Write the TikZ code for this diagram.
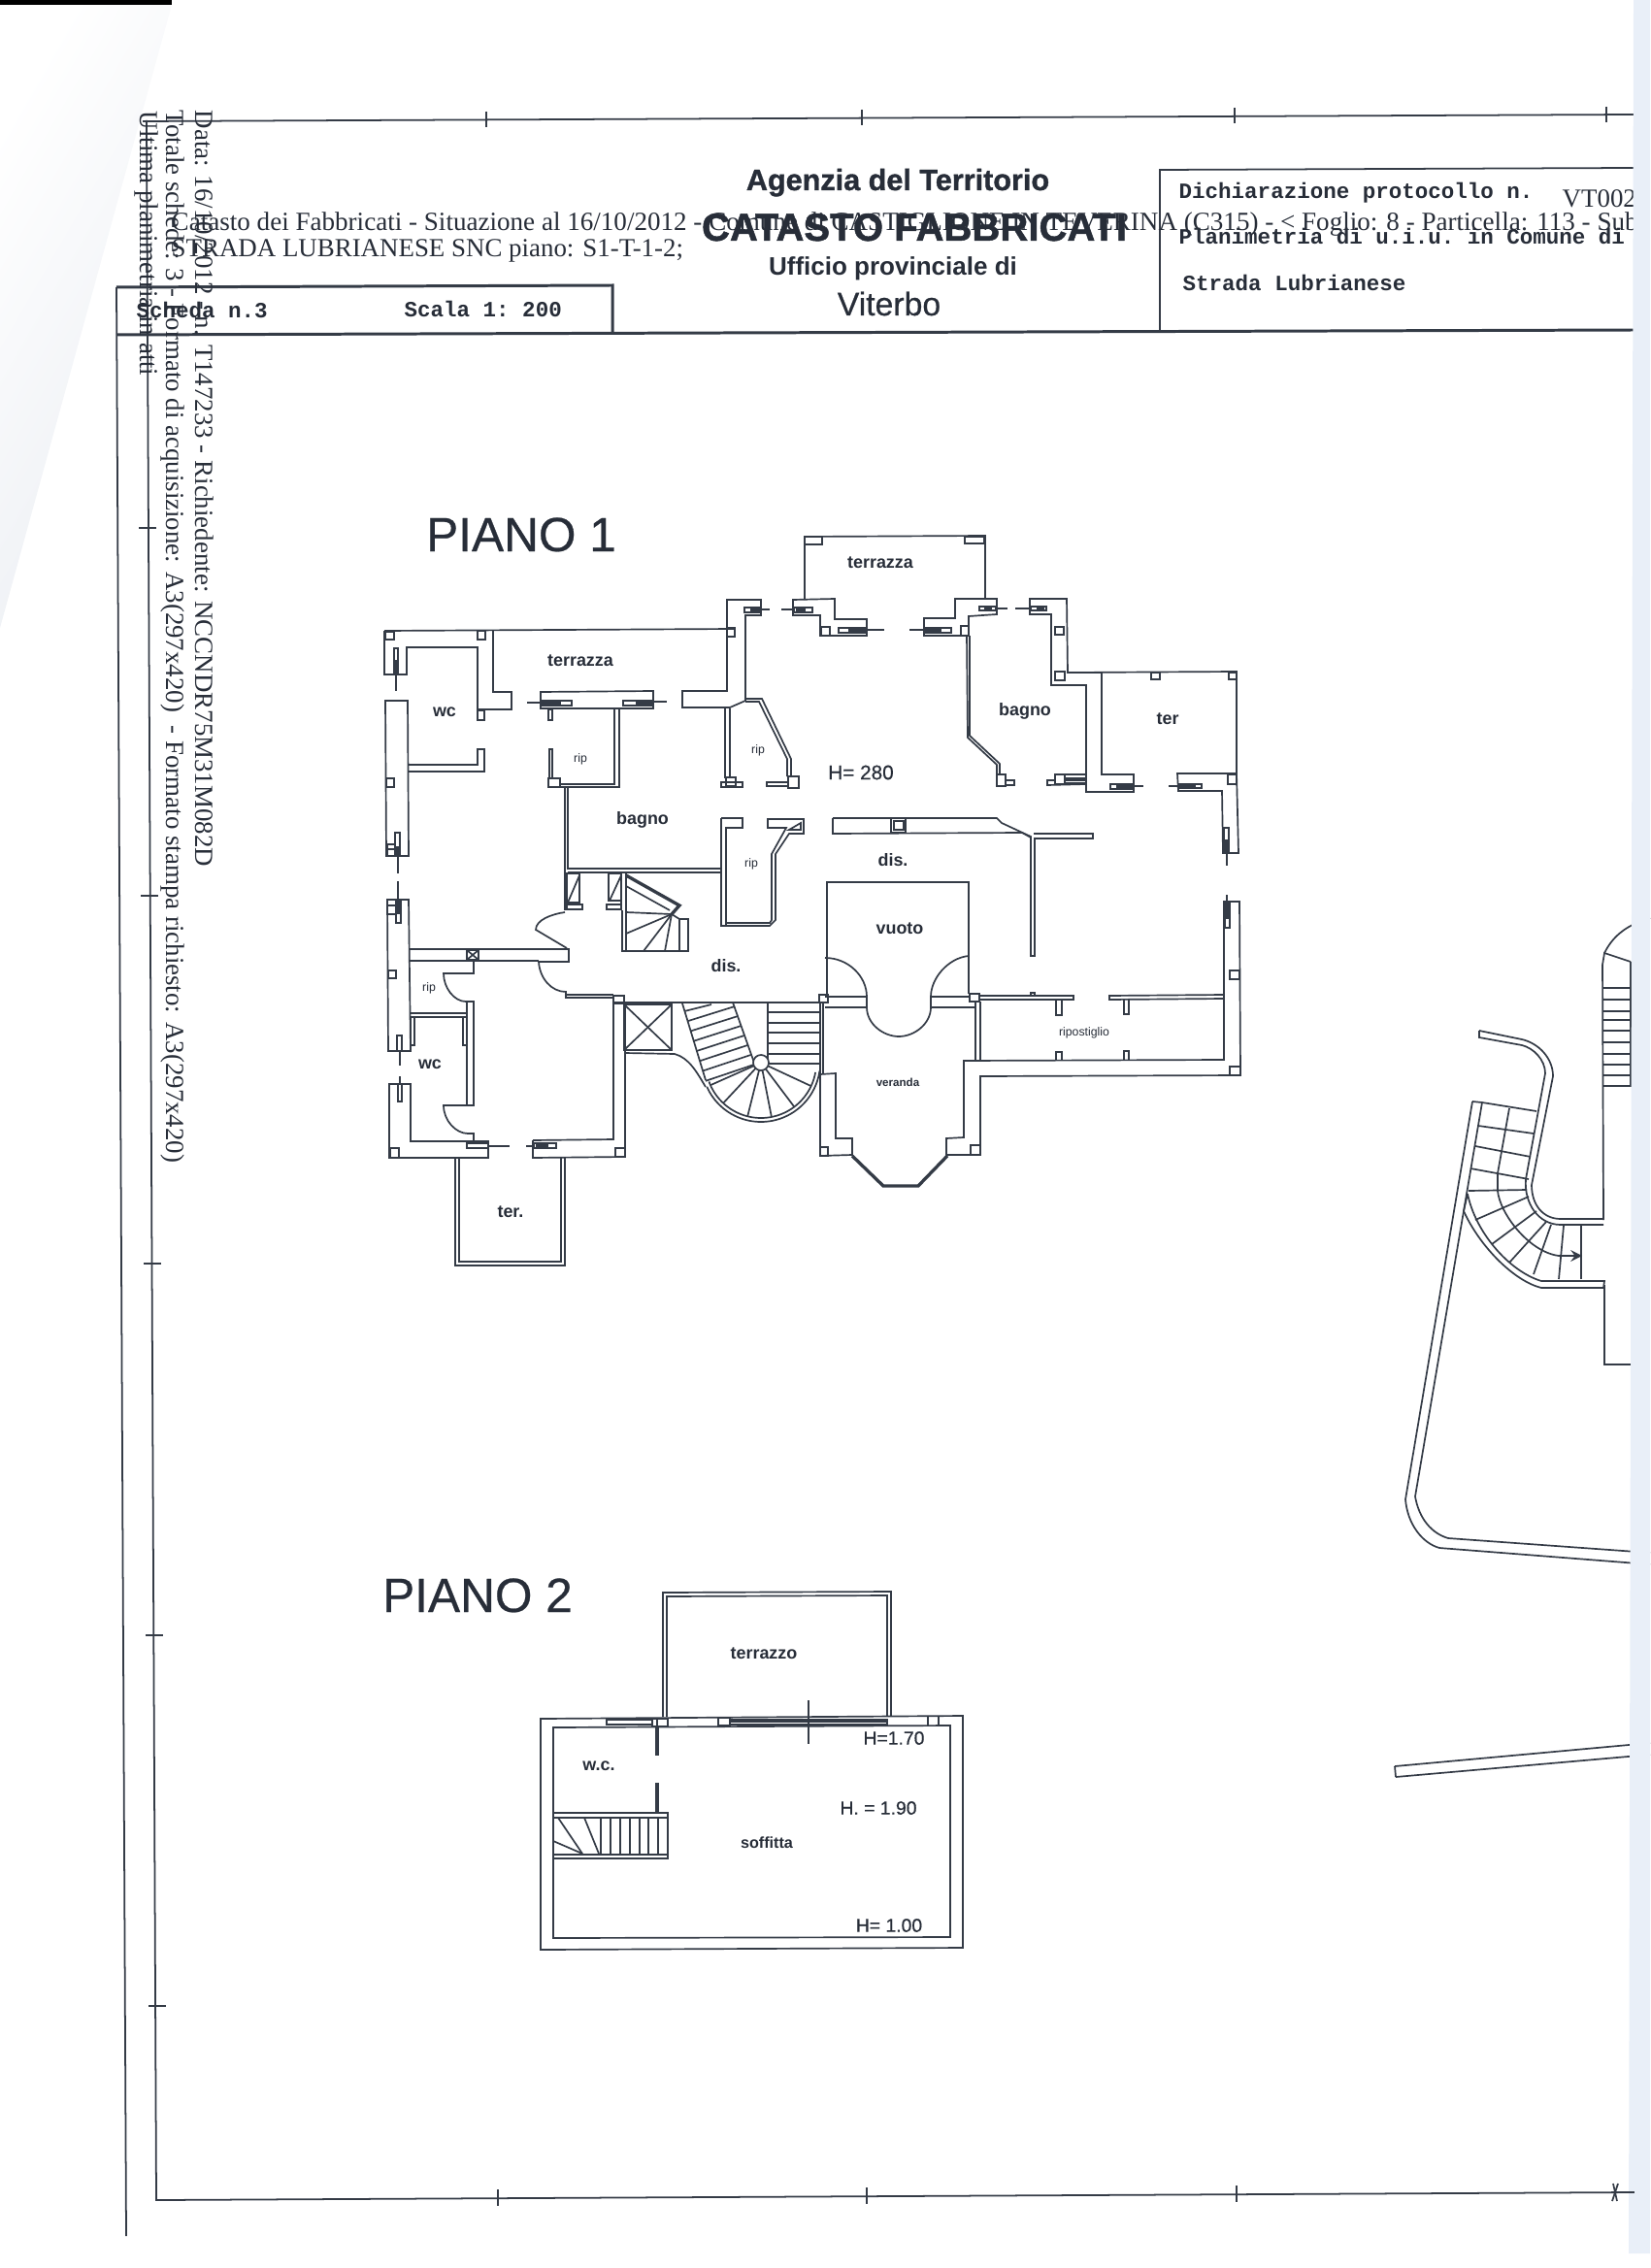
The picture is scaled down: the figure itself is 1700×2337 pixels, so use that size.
\documentclass[tikz,border=0pt]{standalone}
\usepackage{fontspec}
\setmainfont{Liberation Serif}
\setsansfont{Liberation Sans}
\setmonofont{Liberation Mono}
\newfontfamily\semisans[FakeBold=0.5]{Liberation Sans}
\newfontfamily\heavysans[FakeBold=1.2]{Liberation Sans Bold}
\definecolor{inkline}{HTML}{343B46}
\definecolor{inktext}{HTML}{272D38}
\definecolor{foldtint}{HTML}{EBEEF3}
\definecolor{edgetint}{HTML}{E9EFF8}
\begin{document}
\begin{tikzpicture}[x=0.01cm,y=-0.01cm,>=stealth,
    wall/.style={line width=0.48pt,color=inkline},
    heavywall/.style={line width=0.95pt,color=inkline},
    frameline/.style={line width=0.5pt,color=inkline},
    headline/.style={line width=0.85pt,color=inkline},
    printline/.style={font=\rmfamily\fontsize{7.65}{9}\selectfont,text=inktext,inner sep=0pt},
    monoline/.style={font=\ttfamily\bfseries\fontsize{6.4}{8}\selectfont,text=inktext,inner sep=0pt},
    roomlabel/.style={font=\sffamily\bfseries\fontsize{5.1}{6}\selectfont,text=inktext,inner sep=0pt},
    smalllabel/.style={font=\sffamily\fontsize{3.5}{4}\selectfont,text=inktext,inner sep=0pt},
    heightlabel/.style={font=\semisans\fontsize{5.5}{6}\selectfont,text=inktext,inner sep=0pt},
    floortitle/.style={font=\semisans\fontsize{14.1}{16}\selectfont,text=inktext,inner sep=0pt},
    officetitle/.style={font=\sffamily\bfseries,text=inktext,inner sep=0pt}]
    \useasboundingbox (0,0) rectangle (1700,2337);
    \shade [left color=white,right color=foldtint,shading angle=60] (0,5) -- (177,5) -- (0,647) -- cycle;
    \fill [black] (0,0) rectangle (177,5);
    \coordinate (TL) at (147,125);
    \coordinate (TR) at (1683,118);
    \coordinate (BL) at (161,2267);
    \coordinate (BR) at (1684,2259);
    \coordinate (HL) at (120,345);
    \coordinate (HR) at (1683,340);
    \draw [frameline] (TL) -- (TR);
    \draw [frameline] (151,124) -- (BL) -- (BR);
    \draw [frameline] (120,296) -- (130,2304);
    \draw [headline] (HL) -- (HR);
    \draw [headline] (120,296) -- (631,294) -- (631,345);
    \draw [frameline] (1195,340) -- (1195,175) -- (1683,173);
    \foreach \tx/\ty in {501/123,888/121,1272/119,1655/118}
        \draw [wall] (\tx,\ty-8) -- (\tx,\ty+8);
    \foreach \tx/\ty in {513/2265,893/2263,1274/2261}
        \draw [wall] (\tx,\ty-9) -- (\tx,\ty+8);
    \foreach \tx/\ty in {152/544,154/923,157/1302,159/1685,162/2067}
        \draw [wall] (\tx-9,\ty) -- (\tx+9,\ty);
    \node [printline,anchor=base west,rotate=-90] (dataline) at (201,113) {Data: 16/10/2012 - n. T147233 - Richiedente: NCCNDR75M31M082D};
    \node [printline,anchor=base west,rotate=-90] (totaleline) at (171,113) {Totale schede: 3 - Formato di acquisizione: A3(297x420) \ - Formato stampa richiesto: A3(297x420)};
    \node [printline,anchor=base west,rotate=-90] (ultimaline) at (144,114) {Ultima planimetria in atti};
    \node [printline,anchor=base west,font=\rmfamily\fontsize{7.7}{9}\selectfont] (catastoline) at (176,238) {Catasto dei Fabbricati - Situazione al 16/10/2012 - Comune di CASTIGLIONE IN TEVERINA (C315) - < Foglio: 8 - Particella: 113 - Sub};
    \node [printline,anchor=base west] (stradaline) at (176,265) {STRADA LUBRIANESE SNC piano: S1-T-1-2;};
    \node [printline,anchor=base west] (protocollo) at (1609,214) {VT002};
    \node [monoline,anchor=base west] (schedaline) at (140,328) {Scheda n.3};
    \node [monoline,anchor=base west] (scalaline) at (416,327) {Scala 1: 200};
    \node [monoline,anchor=base west] (dichiaraline) at (1214,205) {Dichiarazione protocollo n.};
    \node [monoline,anchor=base west] (planimetrialine) at (1214,252) {Planimetria di u.i.u. in Comune di};
    \node [monoline,anchor=base west] (stradaname) at (1218,300) {Strada Lubrianese};
    \node [officetitle,anchor=base,font=\heavysans\fontsize{8.7}{10}\selectfont] (agenzia) at (925,196) {Agenzia del Territorio};
    \node [officetitle,anchor=base,font=\heavysans\fontsize{11.4}{13}\selectfont] (catastotitle) at (942,248) {CATASTO FABBRICATI};
    \node [officetitle,anchor=base,font=\sffamily\bfseries\fontsize{7.4}{9}\selectfont] (ufficio) at (920,284) {Ufficio provinciale di};
    \node [officetitle,anchor=base,font=\semisans\fontsize{9.6}{11}\selectfont] (viterbo) at (916,325) {Viterbo};
    \node [floortitle,anchor=base] (pianoone) at (537,568) {PIANO 1};
    \node [floortitle,anchor=base] (pianotwo) at (492,1661) {PIANO 2};
    \foreach \xa/\ya/\xb/\yb in {397/651/406/659,492/650/500/659,749/647/757/656,398/802/406/811,399/933/408/942,400/1000/408/1008,402/1183/411/1193,634/1183/644/1192,632/1026/643/1034,846/646/855/655,990/645/998/655,1087/646/1096/654,1087/692/1097/701,1186/693/1195/700,1266/693/1274/700,1265/798/1274/808,1267/1000/1277/1009,1267/1099/1278/1108,1000/1180/1010/1190,845/1182/853/1191,999/1024/1009/1032,844/1025/853/1033,829/553/847/561,994/553/1014/560,1027/798/1036/810,1087/798/1097/808,565/802/577/811,748/801/758/810,812/800/823/812,492/732/499/742,399/870/407/875,399/875/407/882}
        \draw [wall] (\xa,\ya) rectangle (\xb,\yb);
    \foreach \xa/\ya/\xb/\yb in {406/668/410/695,407/858/412/882,408/928/413/951,409/1067/414/1083,410/1117/414/1135,481/1178/503/1183,550/1178/573/1183,557/722/589/727,642/722/673/727,767/626/783/631,818/626/837/631,864/647/893/652,952/647/980/652,1009/625/1026/629,1062/625/1078/629,1144/808/1168/813,1214/808/1238/812,1261/853/1266/879,1262/929/1267/956,1097/798/1119/807}
        \draw [wall] (\xa,\ya) rectangle (\xb,\yb);
    \foreach \xa/\ya/\xb/\yb in {407/680/409/695,408/872/411/882,409/928/412/942,557/723/578/726,655/723/673/726,552/1179/565/1182,874/648/893/651,952/648/970/651,1014/626/1022/628,1150/809/1168/812,1214/809/1232/812,1262/865/1265/879,1263/929/1266/947,1097/801/1119/805,1068/626/1076/628,773/627/783/630,820/627/830/630}
        \fill [inkline] (\xa,\ya) rectangle (\xb,\yb);
    \foreach \xa/\ya/\xb/\yb in {408/695/408/712,410/882/410/900,410/908/410/928,412/1083/412/1098,412/1109/412/1117,503/1181/525/1181,542/1181/550/1181,543/724/557/724,673/723/687/723,783/628/793/628,805/628/818/628,893/649/911/649,937/649/952/649,1026/627/1038/627,1046/627/1061/627,1168/810/1178/810,1204/810/1214/810,1264/879/1264/892,1264/922/1264/929}
        \draw [wall] (\xa,\ya) -- (\xb,\yb);
    \draw [wall] (396,650) -- (757,648);
    \draw [wall] (396,650) -- (396,695) -- (419,695) -- (419,667) -- (492,667) -- (492,731) -- (527,731) -- (527,713) -- (508,713) -- (508,649);
    \draw [wall] (397,722) -- (420,722) -- (421,882) -- (398,882) -- cycle;
    \draw [wall] (420,788) -- (492,788) -- (492,772) -- (499,772) -- (499,795) -- (420,795);
    \draw [wall] (399,927) -- (421,927) -- (423,1083) -- (400,1083) -- cycle;
    \draw [wall] (401,1117) -- (423,1117) -- (423,1176) -- (503,1176) -- (503,1193) -- (401,1193) -- cycle;
    \draw [wall] (549,1175) -- (632,1174) -- (632,1034);
    \draw [wall] (549,1175) -- (549,1193) -- (644,1192) -- (644,1035);
    \draw [wall] (469,1193) -- (469,1304) -- (582,1304) -- (582,1193);
    \draw [wall] (473,1193) -- (473,1300) -- (578,1300) -- (578,1193);
    \draw [wall] (422,978) -- (586,978) -- (586,991) -- (555,991);
    \draw [wall] (422,990) -- (555,990);
    \draw [wall] (481,979) rectangle (493,989);
    \draw [wall] (481,979) -- (493,989);
    \draw [wall] (493,979) -- (481,989);
    \draw [wall] (480,990) -- (488,990) -- (488,1003) -- (457,1003) .. controls (457,1018) and (468,1032) .. (480,1032) -- (488,1032) -- (488,1139) -- (457,1139) .. controls (457,1155) and (470,1168) .. (482,1168) -- (488,1168) -- (488,1176);
    \draw [wall] (481,1032) -- (481,1139);
    \draw [wall] (423,1044) -- (481,1044);
    \draw [wall] (423,1048) -- (481,1048);
    \draw [wall] (423,1048) -- (423,1077) -- (427,1077) -- (427,1048);
    \draw [wall] (477,1048) -- (477,1077) -- (481,1077);
    \draw [wall] (582,940) .. controls (568,942) and (552,948) .. (552,958) -- (584,977);
    \draw [wall] (555,991) .. controls (556,1008) and (568,1022) .. (583,1022) -- (583,1028) -- (632,1028);
    \draw [wall] (583,1025) -- (632,1025);
    \draw [wall] (582,811) -- (582,938);
    \draw [wall] (585,811) -- (585,895) -- (743,895);
    \draw [wall] (585,899) -- (743,899);
    \draw [wall] (743,843) -- (765,843) -- (765,853) -- (748,853) -- (748,954);
    \draw [wall] (743,843) -- (743,954) -- (793,954) -- (799,948) -- (799,880) -- (813,859) -- (828,859) -- (828,844) -- (791,844) -- (791,853) -- (810,853) -- (795,880) -- (795,948) -- (793,951) -- (748,951);
    \draw [wall] (813,855) -- (825,848) -- (825,855) -- cycle;
    \draw [wall] (557,713) -- (673,712) -- (673,730) -- (557,730) -- cycle;
    \draw [wall] (565,731) rectangle (569,742);
    \draw [wall] (633,731) -- (633,808) -- (577,808);
    \draw [wall] (638,731) -- (638,811) -- (577,811);
    \draw [wall] (566,772) rectangle (569,802);
    \draw [wall] (703,712) -- (749,712) -- (749,618) -- (784,618) -- (784,634) -- (768,634) -- (768,722) -- (752,729) -- (703,729) -- cycle;
    \draw [wall] (817,618) -- (860,617) -- (860,638) -- (893,638) -- (893,655) -- (845,655) -- (845,634) -- (817,634) -- cycle;
    \draw [wall] (829,618) -- (829,553) -- (1015,552) -- (1015,617);
    \draw [wall] (952,637) -- (984,637) -- (984,617) -- (1027,617) -- (1027,633) -- (998,635) -- (998,655) -- (952,655) -- cycle;
    \draw [wall] (1061,617) -- (1099,617) -- (1100,693) -- (1135,693) -- (1135,798) -- (1168,798) -- (1168,816) -- (1119,816) -- (1119,706) -- (1083,706) -- (1083,633) -- (1061,633) -- cycle;
    \draw [wall] (1100,693) -- (1274,692) -- (1274,797);
    \draw [wall] (1213,797) -- (1274,797) -- (1276,879) -- (1260,879) -- (1259,815) -- (1214,815) -- cycle;
    \draw [wall] (1261,929) -- (1277,929) -- (1278,1108) -- (1010,1109) -- (1010,1190) -- (975,1190) -- (975,1173) -- (993,1172) -- (993,1093) -- (1261,1092) -- cycle;
    \draw [heavywall] (878,1191) -- (910,1222) -- (946,1222) -- (976,1191);
    \draw [wall] (845,1107) -- (861,1106) -- (861,1173) -- (878,1173) -- (878,1190) -- (845,1191) -- cycle;
    \draw [wall] (852,1026) -- (852,909) -- (998,909) -- (998,1024);
    \draw [wall] (850,1027) -- (893,1027) -- (893,1038) -- (850,1038);
    \draw [wall] (1000,1027) -- (959,1027) -- (959,1038) -- (1005,1038);
    \draw [wall] (850,987) .. controls (874,987) and (893,1006) .. (893,1027);
    \draw [wall] (998,985) .. controls (977,987) and (959,1008) .. (959,1027);
    \draw [wall] (893,1038) .. controls (893,1055) and (910,1068) .. (926,1068) .. controls (942,1068) and (959,1055) .. (959,1038);
    \draw [wall] (1005,1032) -- (1005,1092);
    \draw [wall] (1010,1032) -- (1010,1092);
    \draw [wall] (1009,1026) -- (1106,1026) -- (1106,1030) -- (1009,1030);
    \draw [wall] (1261,1025) -- (1143,1026) -- (1143,1030) -- (1261,1029);
    \draw [wall] (1062,1026) -- (1062,1023) -- (1066,1023) -- (1066,1026);
    \draw [wall] (1088,1030) -- (1088,1046) -- (1094,1046) -- (1094,1030);
    \draw [wall] (1158,1030) -- (1158,1045) -- (1163,1045) -- (1163,1030);
    \draw [wall] (1088,1092) -- (1088,1084) -- (1094,1084) -- (1094,1092);
    \draw [wall] (1158,1092) -- (1158,1083) -- (1163,1083) -- (1163,1092);
    \draw [wall] (858,843) -- (1027,843) -- (1032,848) -- (1062,862) -- (1062,985) -- (1066,985) -- (1066,864) -- (1126,864) -- (1126,859) -- (1065,859);
    \draw [wall] (858,843) -- (858,859) -- (1053,858) -- (1062,863);
    \draw [wall] (918,843) rectangle (933,858);
    \draw [wall] (921,846) rectangle (931,855);
    \draw [wall] (996,655) -- (997,760) -- (1027,788) -- (1027,798);
    \draw [wall] (999,655) -- (999,758) -- (1030,787) -- (1030,798);
    \draw [wall] (1036,804) rectangle (1045,809);
    \draw [wall] (1087,804) -- (1079,804) -- (1079,809) -- (1119,808);
    \draw [wall] (747,730) -- (747,802);
    \draw [wall] (752,730) -- (752,802);
    \draw [wall] (743,806) rectangle (765,811);
    \draw [wall] (768,720) -- (785,720) -- (815,782) -- (815,800);
    \draw [wall] (768,723) -- (782,723) -- (811,782) -- (811,800);
    \draw [wall] (790,806) rectangle (812,810);
    \draw [wall] (584,900) rectangle (597,930);
    \draw [wall] (597,902) -- (585,930);
    \draw [wall] (627,900) rectangle (640,928);
    \draw [wall] (640,902) -- (628,928);
    \draw [wall] (584,932) rectangle (600,937);
    \draw [wall] (625,932) rectangle (640,937);
    \draw [wall] (640,899) -- (640,938);
    \draw [wall] (641,938) -- (641,980) -- (709,980) -- (709,947) -- (700,947) -- (700,980);
    \draw [wall] (645,899) -- (645,980);
    \draw [heavywall] (645,902) -- (700,933) -- (692,942);
    \draw [wall] (645,913) -- (690,938);
    \foreach \tx/\ty in {645/940,645/962,663/980,685/980}
        \draw [wall] (692,942) -- (\tx,\ty);
    \draw [wall] (692,942) -- (700,947);
    \draw [wall] (632,1033) -- (845,1033);
    \draw [wall] (643,1035) rectangle (692,1082);
    \draw [wall] (643,1035) -- (692,1082);
    \draw [wall] (692,1035) -- (643,1082);
    \draw [wall] (644,1085) -- (695,1086) .. controls (710,1090) and (718,1105) .. (727,1120);
    \draw [wall] (703,1034) -- (727,1113);
    \draw [wall] (755,1033) -- (777,1095);
    \draw [wall] (705,1042) -- (733,1035);
    \foreach \i in {1,...,7}
        \draw [wall] (709+3*\i-3,1052+10.3*\i-10.3) -- (757+3.3*\i-3.3,1037+10*\i-10);
    \draw [wall] (791,1033) -- (791,1095);
    \foreach \ty in {1043,1054,1064,1075,1086,1096}
        \draw [wall] (791,\ty) -- (844,\ty);
    \draw [wall] (845,1033) -- (845,1107);
    \draw [wall] (848,1033) -- (848,1107);
    \draw [wall] plot [domain=8:156,samples=50] ({784+61*cos(\x)},{1095+61*sin(\x)});
    \draw [wall] plot [domain=10:160,samples=50] ({784+57*cos(\x)},{1095+57*sin(\x)});
    \foreach \ang in {25,53,79,104,133,156}
        \draw [wall] ({784+8*cos(\ang)},{1095+8*sin(\ang)}) -- ({784+57*cos(\ang)},{1095+57*sin(\ang)});
    \draw [wall,fill=white] (784,1095) circle (8);
    \draw [wall] (557,1771) -- (992,1768) -- (992,2007) -- (557,2009) -- cycle;
    \draw [wall] (570,1780) -- (979,1778) -- (979,1996) -- (570,1997) -- cycle;
    \draw [wall] (683,1769) -- (683,1641) -- (918,1640) -- (918,1768);
    \draw [wall] (687,1769) -- (687,1645) -- (914,1644) -- (914,1768);
    \draw [wall] (625,1772) rectangle (672,1777);
    \draw [wall] (672,1771) rectangle (677,1779);
    \draw [wall] (677,1771) rectangle (688,1779);
    \draw [wall] (740,1770) rectangle (752,1778);
    \draw [wall] (752,1772) rectangle (914,1777);
    \draw [wall] (752,1774) -- (914,1774);
    \draw [wall] (956,1769) -- (956,1778);
    \draw [wall] (967,1769) -- (967,1778);
    \draw [wall] (833,1752) -- (833,1797);
    \draw [wall] (676,1780) rectangle (678,1808);
    \draw [wall] (676,1838) rectangle (678,1868);
    \draw [wall] (570,1868) -- (688,1868) -- (688,1915) -- (570,1915);
    \draw [wall] (570,1873) -- (688,1873);
    \draw [wall] (570,1911) -- (688,1911);
    \foreach \tx in {619,629,639,649,659,668,678}
        \draw [wall] (\tx,1873) -- (\tx,1911);
    \draw [wall] (575,1873) -- (600,1910);
    \draw [wall] (602,1873) -- (617,1910);
    \draw [wall] (570,1897) -- (600,1910);
    \draw [wall] (1653,982) .. controls (1660,968) and (1672,954) .. (1700,946);
    \draw [wall] (1651,994) -- (1653,982) -- (1680,991);
    \draw [wall] (1651,994) -- (1652,1257);
    \draw [wall] (1680,991) -- (1680,1119);
    \foreach \ty in {1018,1030,1042,1051,1062,1074,1086,1097,1108,1119}
        \draw [wall] (1651,\ty) -- (1700,\ty);
    \draw [wall] (1653,1324) -- (1653,1406) -- (1700,1406);
    \draw [wall] (1524,1062) -- (1568,1071) .. controls (1585,1075) and (1600,1090) .. (1600,1109) -- (1578,1221) .. controls (1578,1242) and (1590,1256) .. (1608,1256) -- (1652,1256);
    \draw [wall] (1524,1062) -- (1524,1069) -- (1568,1077) .. controls (1580,1080) and (1592,1092) .. (1592,1106) -- (1572,1215) .. controls (1570,1240) and (1585,1262) .. (1608,1262) -- (1652,1262);
    \draw [wall] (1517,1135) -- (1448,1545) .. controls (1450,1570) and (1465,1590) .. (1483,1595) -- (1700,1612);
    \draw [wall] (1527,1136) -- (1458,1542) .. controls (1462,1565) and (1475,1580) .. (1492,1585) -- (1700,1600);
    \draw [wall] (1517,1135) -- (1527,1136) -- (1583,1145);
    \foreach \xa/\ya/\xb/\yb in {1523/1160/1580/1168,1520/1181/1577/1192,1515/1204/1575/1215,1513/1227/1573/1226,1520/1257/1575/1233,1537/1282/1583/1248,1555/1301/1593/1259,1580/1313/1598/1262,1606/1318/1611/1263,1629/1318/1629/1262}
        \draw [wall] (\xa,\ya) -- (\xb,\yb);
    \draw [wall] (1555,1142) -- (1543,1209) -- (1543,1227) .. controls (1545,1250) and (1575,1290) .. (1606,1294);
    \coordinate (risestart) at (1606,1294);
    \coordinate (riseend) at (1630,1294);
    \draw [wall,->] (risestart) -- (riseend);
    \draw [wall] (1508,1248) .. controls (1525,1285) and (1560,1320) .. (1588,1327) -- (1652,1327) -- (1653,1320) -- (1588,1320) .. controls (1555,1310) and (1520,1270) .. (1512,1230);
    \draw [wall] (1508,1248) -- (1512,1230);
    \draw [wall] (1437,1820) -- (1700,1796);
    \draw [wall] (1438,1831) -- (1700,1808);
    \draw [wall] (1437,1820) -- (1438,1831);
    \node [roomlabel] (terrazzawest) at (598,681) {terrazza};
    \node [roomlabel] (terrazzanorth) at (907,580) {terrazza};
    \node [roomlabel] (wcnorth) at (458,734) {wc};
    \node [smalllabel] (ripwest) at (598,782) {rip};
    \node [smalllabel] (ripmid) at (781,773) {rip};
    \node [smalllabel] (riplow) at (774,890) {rip};
    \node [smalllabel] (ripsouth) at (442,1018) {rip};
    \node [roomlabel] (bagnowest) at (662,845) {bagno};
    \node [roomlabel] (bagnoeast) at (1056,733) {bagno};
    \node [roomlabel] (tereast) at (1203,741) {ter};
    \node [heightlabel,font=\semisans\fontsize{5.9}{7}\selectfont] (heightone) at (887,796) {H= 280};
    \node [roomlabel] (diseast) at (920,886) {dis.};
    \node [roomlabel] (diswest) at (748,995) {dis.};
    \node [roomlabel] (vuoto) at (927,957) {vuoto};
    \node [smalllabel] (ripostiglio) at (1117,1064) {ripostiglio};
    \node [smalllabel,font=\sffamily\bfseries\fontsize{3.3}{4}\selectfont] (veranda) at (925,1115) {veranda};
    \node [roomlabel] (wcsouth) at (443,1097) {wc};
    \node [roomlabel] (tersouth) at (526,1249) {ter.};
    \node [roomlabel] (terrazzo) at (787,1704) {terrazzo};
    \node [roomlabel] (wctwo) at (617,1820) {w.c.};
    \node [roomlabel,font=\sffamily\bfseries\fontsize{4.6}{6}\selectfont] (soffitta) at (790,1899) {soffitta};
    \node [heightlabel] (heightupper) at (921,1791) {H=1.70};
    \node [heightlabel] (heightmid) at (905,1863) {H. = 1.90};
    \node [heightlabel] (heightlower) at (916,1984) {H= 1.00};
    \fill [edgetint] (1683,0) -- (1700,0) -- (1700,2322) -- (1678,2322) -- cycle;
    \draw [frameline] (1660,2259) -- (BR);
    \draw [wall] (1662,2250) -- (1666,2268);
    \draw [wall] (1667,2250) -- (1661,2268);
\end{tikzpicture}
\end{document}
